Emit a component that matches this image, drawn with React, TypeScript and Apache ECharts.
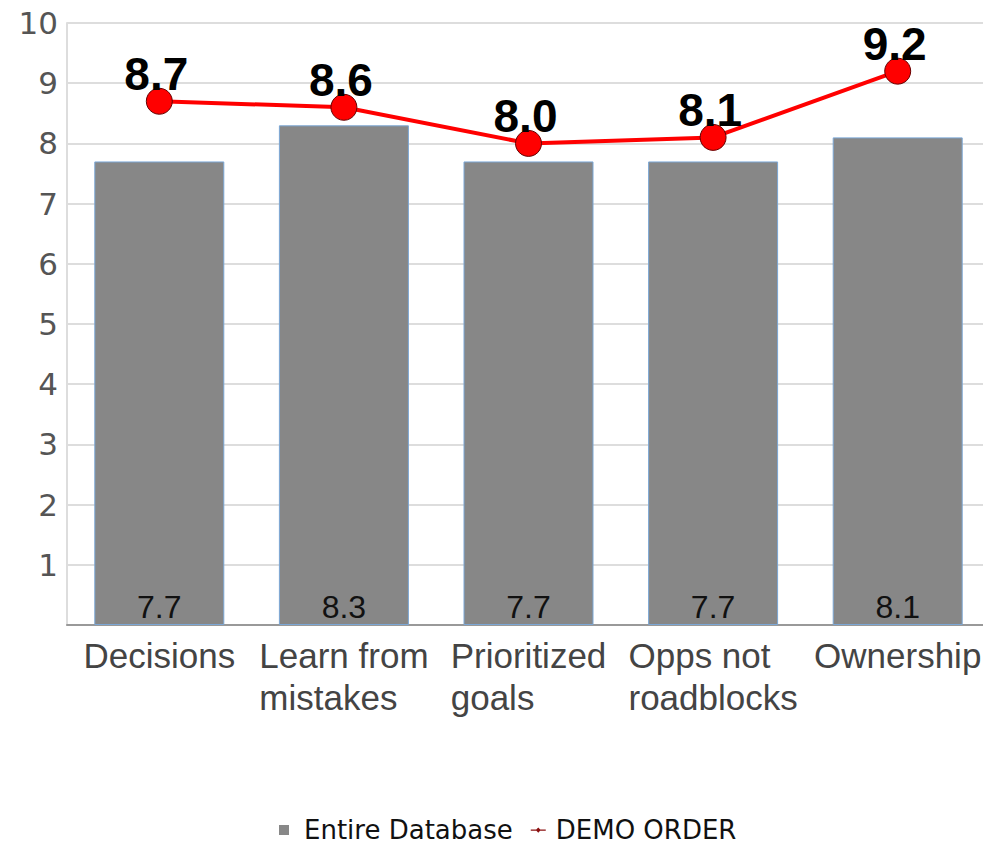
import React, { useEffect, useRef } from "react";
import * as echarts from "echarts";

const categories = ["Decisions", "Learn from\nmistakes", "Prioritized\ngoals", "Opps not\nroadblocks", "Ownership"];
const entireDatabase = [7.7, 8.3, 7.7, 7.7, 8.1];
const demoOrder = [8.7, 8.6, 8.0, 8.1, 9.2];
const yTicks = { min: 0, max: 10, interval: 1 };

const SANS = '"Liberation Sans", Arial, sans-serif';

export default function App() {
  const ref = useRef<HTMLDivElement>(null);
  useEffect(() => {
    if (!ref.current) return;
    const chart = echarts.init(ref.current, null, { renderer: "svg" });
    chart.setOption({
      animation: false,
      backgroundColor: "#ffffff",
      grid: { left: 67, right: 0, top: 23, bottom: 223, containLabel: false },
      legend: {
        top: 815,
        left: 279,
        padding: 0,
        itemWidth: 20,
        itemHeight: 10,
        itemGap: 18,
        textStyle: { fontFamily: "DejaVu Sans", fontSize: 26, lineHeight: 30, color: "#111" },
        data: [
          {
            name: "Entire Database",
            icon: "path://M0 0h10v10h-10z M19.95 4.95h0.05v0.05h-0.05z",
            itemStyle: { color: "#888888", borderWidth: 0 },
          },
          {
            name: "DEMO ORDER",
            icon: "path://M0 4.5h15v1.2h-15z M7.5 2.5l2.5 2.6l-2.5 2.6l-2.5-2.6z M0 0h0.05v0.05h-0.05z M19.95 9.95h0.05v0.05h-0.05z",
            itemStyle: { color: "#8b1010", borderWidth: 0 },
          },
        ],
      },
      xAxis: {
        type: "category",
        data: categories,
        axisLine: { show: true, lineStyle: { color: "#999999", width: 2 } },
        axisTick: { show: false },
        axisLabel: {
          interval: 0,
          margin: 9,
          color: "#444444",
          fontFamily: SANS,
          fontSize: 35,
          lineHeight: 42,
          formatter: (v: string) => v.split("\n").map((s) => `{a|${s}}`).join("\n"),
          rich: { a: { align: "left", fontFamily: SANS, fontSize: 35, lineHeight: 42, color: "#444444" } },
        },
      },
      yAxis: {
        type: "value",
        min: yTicks.min,
        max: yTicks.max,
        interval: yTicks.interval,
        axisLine: { show: true, lineStyle: { color: "#dddddd", width: 2 } },
        axisTick: { show: false },
        splitLine: { lineStyle: { color: "#dddddd", width: 2 } },
        axisLabel: {
          showMinLabel: false,
          margin: 9,
          color: "#555555",
          fontFamily: "DejaVu Sans",
          fontSize: 31,
        },
      },
      series: [
        {
          name: "Entire Database",
          type: "bar",
          data: entireDatabase,
          barWidth: 130,
          itemStyle: { color: "#878787", borderColor: "#7ba7d6", borderWidth: 1 },
          label: {
            show: true,
            position: "insideBottom",
            distance: 2,
            color: "#111111",
            fontFamily: SANS,
            fontSize: 32,
            formatter: (p: any) => p.value.toFixed(1),
          },
          z: 2,
        },
        {
          name: "DEMO ORDER",
          type: "line",
          data: demoOrder,
          symbol: "circle",
          symbolSize: 26,
          lineStyle: { color: "#ff0000", width: 4 },
          itemStyle: { color: "#ff0000", borderColor: "#660000", borderWidth: 1 },
          label: {
            show: true,
            position: "inside",
            offset: [-3, -27],
            color: "#000000",
            fontFamily: SANS,
            fontWeight: "bold",
            fontSize: 46,
            formatter: (p: any) => p.value.toFixed(1),
          },
          z: 3,
        },
      ],
    });
    return () => chart.dispose();
  }, []);
  return (
    <div style={{ position: "fixed", left: 0, top: 0, width: 983, height: 848, overflow: "hidden", background: "#fff" }}>
      <div ref={ref} style={{ width: 990, height: 848 }} />
    </div>
  );
}
